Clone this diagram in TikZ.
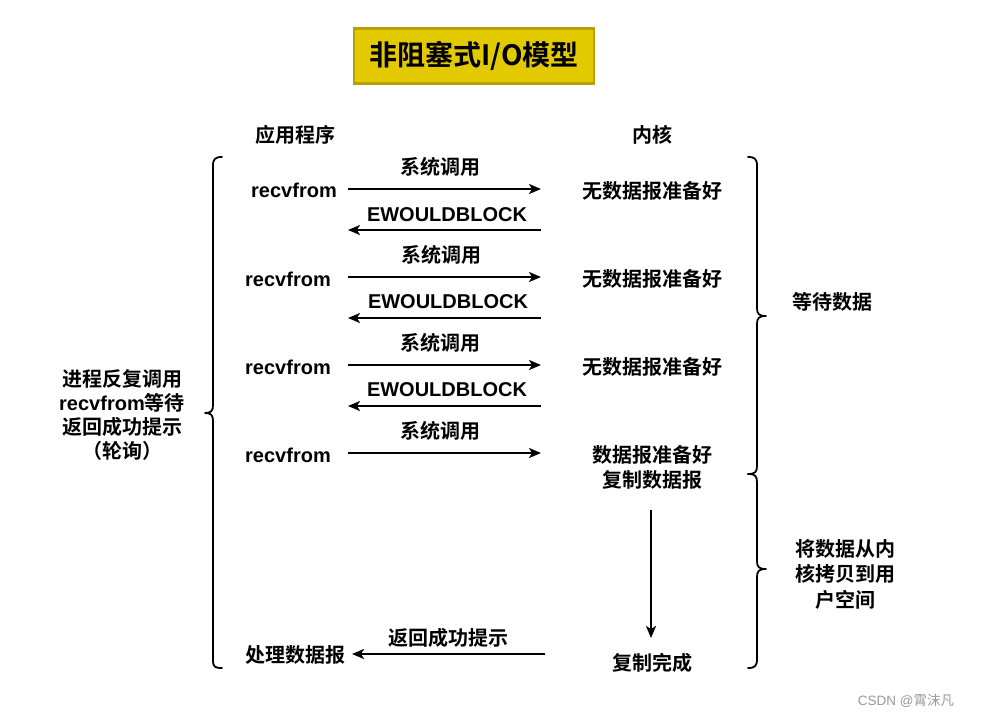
\documentclass[tikz,border=0pt]{standalone}
\usepackage{fontspec}
\setmainfont{Liberation Sans}
\newfontfamily\cjk{Noto Sans CJK SC}[BoldFont={* Bold}]
\usetikzlibrary{arrows.meta}
\definecolor{titlefill}{RGB}{227,201,0}
\definecolor{titleline}{RGB}{184,160,0}
\tikzset{
  x=1pt,y=-1pt,
  lbl/.style={inner sep=0pt,font=\fontsize{20}{25}\selectfont\bfseries,align=center},
  cl/.style={inner sep=0pt,font=\fontsize{20}{25}\selectfont\cjk\bfseries,align=center},
  conn/.style={line width=1.8pt,-{Stealth[length=12pt,width=10pt,inset=3pt]}},
  brace/.style={line width=1.8pt,line cap=round,line join=round}
}
\begin{document}
\begin{tikzpicture}
\useasboundingbox (0,0) rectangle (999,717);
% title
\node[draw=titleline,fill=titlefill,line width=2.5pt,minimum width=240,minimum height=55,inner sep=0pt,font=\fontsize{28}{32}\selectfont\cjk\bfseries] (title) at (474,56) {非阻塞式I/O模型};
% headers
\node[cl] (app) at (295,135) {应用程序};
\node[cl] (ker) at (652,135) {内核};
% row 1
\node[lbl] (r1) at (294,190) {recvfrom};
\node[cl] (k1) at (652,191) {无数据报准备好};
\coordinate (a1s) at (348,189); \coordinate (a1e) at (541,189);
\draw[conn] (a1s) -- (a1e);
\node[cl] (s1) at (440,167) {系统调用};
\node[lbl] (e1) at (447,215) {EWOULDBLOCK};
\coordinate (b1s) at (541,230); \coordinate (b1e) at (348,230);
\draw[conn] (b1s) -- (b1e);
% row 2
\node[lbl] (r2) at (288,279) {recvfrom};
\node[cl] (k2) at (652,279) {无数据报准备好};
\coordinate (a2s) at (348,277); \coordinate (a2e) at (541,277);
\draw[conn] (a2s) -- (a2e);
\node[cl] (s2) at (441,255) {系统调用};
\node[lbl] (e2) at (448,302) {EWOULDBLOCK};
\coordinate (b2s) at (541,318); \coordinate (b2e) at (348,318);
\draw[conn] (b2s) -- (b2e);
% row 3
\node[lbl] (r3) at (288,367) {recvfrom};
\node[cl] (k3) at (652,367) {无数据报准备好};
\coordinate (a3s) at (348,365); \coordinate (a3e) at (541,365);
\draw[conn] (a3s) -- (a3e);
\node[cl] (s3) at (440,343) {系统调用};
\node[lbl] (e3) at (447,390) {EWOULDBLOCK};
\coordinate (b3s) at (541,406); \coordinate (b3e) at (348,406);
\draw[conn] (b3s) -- (b3e);
% row 4
\node[lbl] (r4) at (288,455) {recvfrom};
\node[cl] (k4) at (652,467) {数据报准备好\\复制数据报};
\coordinate (a4s) at (348,453); \coordinate (a4e) at (541,453);
\draw[conn] (a4s) -- (a4e);
\node[cl] (s4) at (440,431) {系统调用};
% copy
\coordinate (ds) at (651,510); \coordinate (de) at (651,638);
\draw[conn] (ds) -- (de);
\node[cl] (done) at (652,663) {复制完成};
\node[cl] (proc) at (295,655) {处理数据报};
\coordinate (fs) at (545,654); \coordinate (fe) at (352,654);
\draw[conn] (fs) -- (fe);
\node[cl] (ok) at (448,638) {返回成功提示};
% left text
\node[lbl,font=\fontsize{20}{24}\selectfont\bfseries] (poll) at (122,415) {{\cjk 进程反复调用}\\recvfrom{\cjk 等待}\\{\cjk 返回成功提示}\\{\cjk （轮询）}};
% left brace
\draw[brace] (222,157) .. controls (215,157) and (213,159) .. (213,166) -- (213,405) .. controls (213,411) and (211,413) .. (205,413) .. controls (211,413) and (213,415) .. (213,421) -- (213,660) .. controls (213,667) and (215,668) .. (222,668);
% right braces
\draw[brace] (748,157) .. controls (755,157) and (757,159) .. (757,166) -- (757,308) .. controls (757,314) and (759,316) .. (766,316) .. controls (759,316) and (757,318) .. (757,324) -- (757,466) .. controls (757,472) and (755,474) .. (748,474);
\draw[brace] (748,474) .. controls (755,474) and (757,476) .. (757,482) -- (757,561) .. controls (757,567) and (759,569) .. (766,569) .. controls (759,569) and (757,571) .. (757,577) -- (757,659) .. controls (757,666) and (755,668) .. (748,668);
\node[cl] (wait) at (832,302) {等待数据};
\node[cl,font=\fontsize{20}{25.5}\selectfont\cjk\bfseries] (copy) at (845,574) {将数据从内\\核拷贝到用\\户空间};
% watermark
\node[inner sep=0pt,text=gray!80,font=\fontsize{13.5}{15}\selectfont] (wm) at (906,701) {CSDN @{\cjk 霄沫凡}};
\end{tikzpicture}
\end{document}
